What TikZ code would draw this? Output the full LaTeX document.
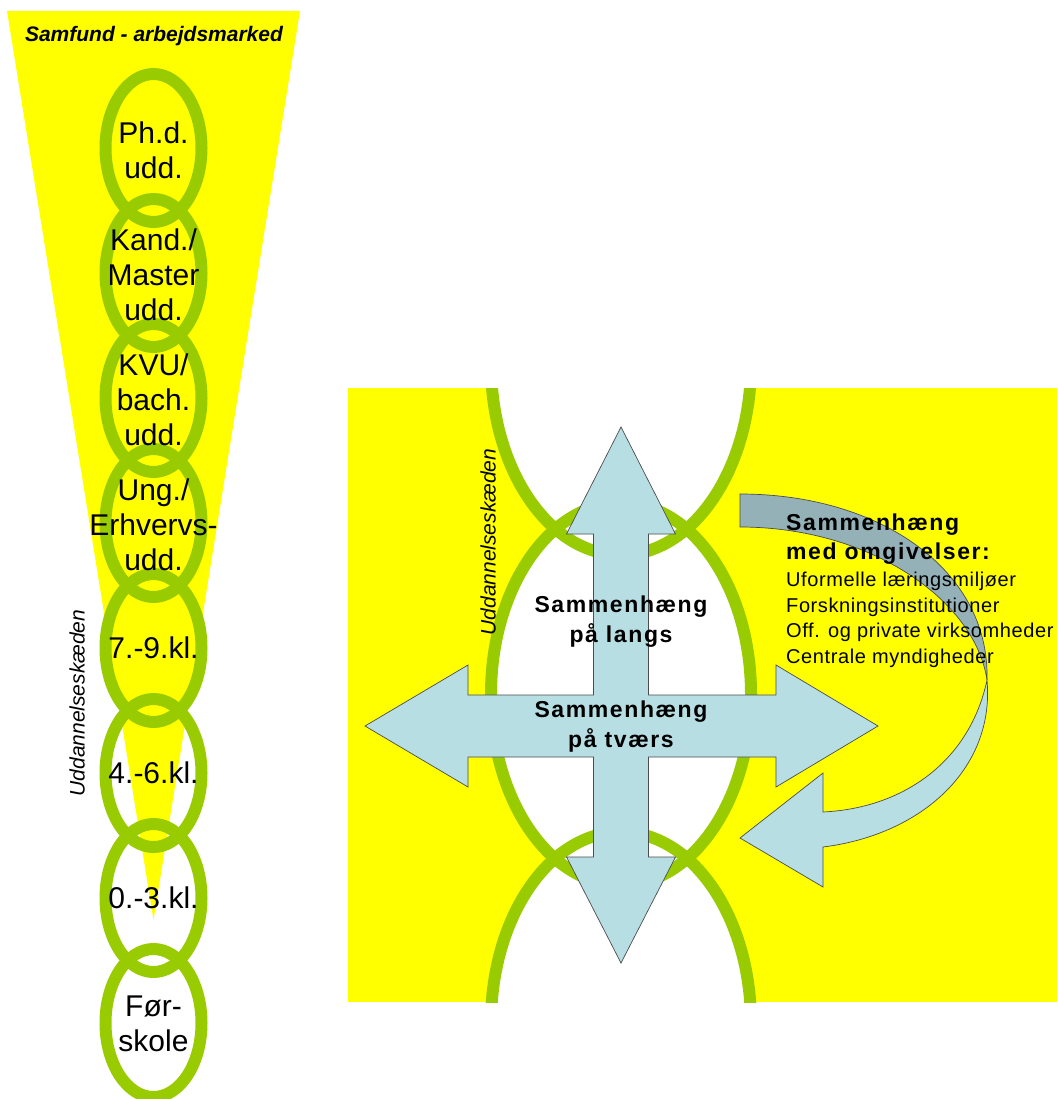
\documentclass[tikz,border=0pt]{standalone}
\usepackage{fontspec}
\setmainfont{Liberation Sans}
\newfontfamily\spacedfont[LetterSpace=7]{Liberation Sans}
\newfontfamily\lightspaced[LetterSpace=3]{Liberation Sans}
\definecolor{ringgreen}{RGB}{153,204,0}
\definecolor{arrowblue}{RGB}{183,222,226}
\definecolor{arrowdark}{RGB}{147,177,183}
\definecolor{bgyellow}{RGB}{255,255,0}
\begin{document}
\begin{tikzpicture}[x=1pt,y=-1pt,
  ring/.style={draw=ringgreen, line width=12pt},
  linklabel/.style={font=\fontsize{30}{35}\selectfont, align=center, inner sep=0pt, text=black},
  boldlabel/.style={font=\spacedfont\bfseries\fontsize{23}{30}\selectfont, align=center, inner sep=0pt},
  smalllabel/.style={font=\lightspaced\fontsize{20}{25}\selectfont, inner sep=0pt, anchor=base west},
  chainlabel/.style={font=\itshape\fontsize{21}{25}\selectfont, inner sep=0pt, rotate=90},
  arrowshape/.style={fill=arrowblue, draw=black!70, line width=0.7pt, line join=miter},
  darkshape/.style={fill=arrowdark, draw=black!70, line width=0.7pt, line join=miter}]
\useasboundingbox (0,0) rectangle (1057,1099);

% ---------- left panel ----------
\fill[bgyellow] (7,11) -- (300,11) -- (153.5,920) -- cycle;
\node[font=\bfseries\itshape\fontsize{21}{25}\selectfont, inner sep=0pt, anchor=base] (samfund) at (154,42) {Samfund - arbejdsmarked};

\foreach \i in {0,...,7}{
  \draw[ring] (153.5,{148+125*\i}) ellipse [x radius=48pt, y radius=74pt];
}
\node[linklabel] (phd)  at (153.5,150) {Ph.d.\\udd.};
\node[linklabel] (kand) at (153.5,275) {Kand./\\Master\\udd.};
\node[linklabel] (kvu)  at (153.5,400) {KVU/\\bach.\\udd.};
\node[linklabel] (ung)  at (153.5,525) {Ung./\\Erhvervs-\\udd.};
\node[linklabel] (k79)  at (153.5,648) {7.-9.kl.};
\node[linklabel] (k46)  at (153.5,773) {4.-6.kl.};
\node[linklabel] (k03)  at (153.5,898) {0.-3.kl.};
\node[linklabel] (fskole) at (153.5,1024) {Før-\\skole};
\node[chainlabel] (chainleft) at (77,703) {Uddannelseskæden};

% ---------- right panel ----------
\fill[bgyellow] (348,388) rectangle (1057,1002);
\begin{scope}
  \clip (348,388) rectangle (1057,1002);
  \fill[white] (621,364) ellipse [x radius=130pt, y radius=191pt];
  \fill[white] (621,694) ellipse [x radius=130pt, y radius=191pt];
  \fill[white] (621,1023) ellipse [x radius=130pt, y radius=191pt];
  \draw[ring] (621,364) ellipse [x radius=130pt, y radius=191pt];
  \draw[ring] (621,694) ellipse [x radius=130pt, y radius=191pt];
  \draw[ring] (621,1023) ellipse [x radius=130pt, y radius=191pt];
\end{scope}

% four-way arrow
\draw[arrowshape] (621,427) -- (675.5,534) -- (648.5,534) -- (648.5,695)
  -- (776,695) -- (776,665) -- (878,726) -- (776,787) -- (776,757)
  -- (648.5,757) -- (648.5,857) -- (675.5,857) -- (621,963) -- (566.5,857)
  -- (593.5,857) -- (593.5,757) -- (468,757) -- (468,787) -- (365,726)
  -- (468,665) -- (468,695) -- (593.5,695) -- (593.5,534) -- (566.5,534) -- cycle;

% curved arrow
\draw[darkshape] (740,494) .. controls (880,494) and (990,570) .. (987,680)
  .. controls (975,600) and (870,527) .. (740,527) -- cycle;
\draw[arrowshape] (987,680) .. controls (995,770) and (920,835) .. (823,847)
  -- (823,887) -- (740,838) -- (823,773) -- (823,812)
  .. controls (905,808) and (970,760) .. (987,680) -- cycle;

% texts
\node[boldlabel] (langs) at (621,622) {Sammenhæng\\på langs};
\node[boldlabel] (tvaers) at (621,727) {Sammenhæng\\på tværs};
\node[chainlabel] (chainright) at (488,542) {Uddannelseskæden};

\node[boldlabel, anchor=base west] (omg1) at (786,530) {Sammenhæng};
\node[boldlabel, anchor=base west] (omg2) at (786,559) {med omgivelser:};
\node[smalllabel] (omg3) at (786,586) {Uformelle læringsmiljøer};
\node[smalllabel] (omg4) at (786,612) {Forskningsinstitutioner};
\node[smalllabel] (omg5) at (786,637) {Off. og private virksomheder};
\node[smalllabel] (omg6) at (786,663) {Centrale myndigheder};
\end{tikzpicture}
\end{document}
